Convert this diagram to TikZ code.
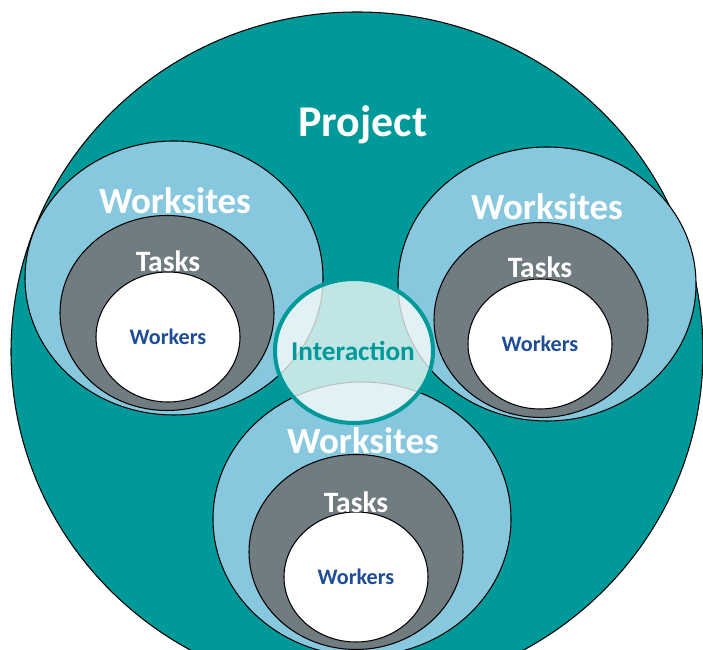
\documentclass[tikz,border=0pt]{standalone}
\usepackage{fontspec}
\setmainfont{Carlito}
\usetikzlibrary{shapes.geometric}

\definecolor{projteal}{HTML}{009999}
\definecolor{siteblue}{HTML}{88C8DE}
\definecolor{taskgray}{HTML}{717C81}
\definecolor{workblue}{HTML}{1F4E96}

\tikzset{
	site/.style={ellipse,draw=black,line width=0.6pt,fill=siteblue,inner sep=0pt,minimum width=5.96cm,minimum height=5.48cm},
	task/.style={ellipse,draw=black,line width=0.6pt,fill=taskgray,inner sep=0pt,minimum width=4.28cm,minimum height=3.9cm},
	worker/.style={ellipse,draw=black,line width=0.6pt,fill=white,inner sep=0pt,minimum width=2.88cm,minimum height=2.6cm},
	sitelbl/.style={text=white,font=\bfseries\fontsize{21}{21}\selectfont},
	tasklbl/.style={text=white,font=\bfseries\fontsize{16.8}{17}\selectfont},
	worklbl/.style={text=workblue,font=\bfseries\fontsize{12.6}{13}\selectfont}
}

\begin{document}
\begin{tikzpicture}
	\useasboundingbox (0,0) rectangle (14.06,13);
	\clip (0,0) rectangle (14.06,13);
\node[ellipse,draw=black,line width=0.6pt,fill=projteal,inner sep=0pt,minimum width=13.84cm,minimum height=13.6cm] (project) at (7.14,5.96) {};
\node[text=white,font=\bfseries\fontsize{25}{25}\selectfont] (projlbl) at (7.26,10.5) {Project};
	% left group
	\node[site] (siteL) at (3.48,7.44) {};
	\node[task] (taskL) at (3.34,6.74) {};
	\node[worker] (workL) at (3.36,6.26) {};
	\node[sitelbl] (siteLlbl) at (3.50,8.98) {Worksites};
	\node[tasklbl] (taskLlbl) at (3.36,7.78) {Tasks};
	\node[worklbl] (workLlbl) at (3.36,6.26) {Workers};
	% right group
	\node[site] (siteR) at (10.94,7.32) {};
	\node[task] (taskR) at (10.82,6.60) {};
	\node[worker] (workR) at (10.80,6.12) {};
	\node[sitelbl] (siteRlbl) at (10.94,8.86) {Worksites};
	\node[tasklbl] (taskRlbl) at (10.80,7.66) {Tasks};
	\node[worklbl] (workRlbl) at (10.80,6.12) {Workers};
	% bottom group
	\node[site] (siteB) at (7.24,2.62) {};
	\node[task] (taskB) at (7.12,1.96) {};
	\node[worker] (workB) at (7.12,1.46) {};
	\node[sitelbl] (siteBlbl) at (7.26,4.18) {Worksites};
	\node[tasklbl] (taskBlbl) at (7.12,2.96) {Tasks};
	\node[worklbl] (workBlbl) at (7.12,1.46) {Workers};
	% centre
	\node[ellipse,draw=projteal,line width=0.08cm,fill=white,fill opacity=0.75,inner sep=0pt,minimum width=3.16cm,minimum height=2.88cm] (inter) at (7.08,5.98) {};
	\node[text=projteal,font=\bfseries\fontsize{15.5}{16}\selectfont] (interlbl) at (7.06,5.98) {Interaction};
\end{tikzpicture}
\end{document}
